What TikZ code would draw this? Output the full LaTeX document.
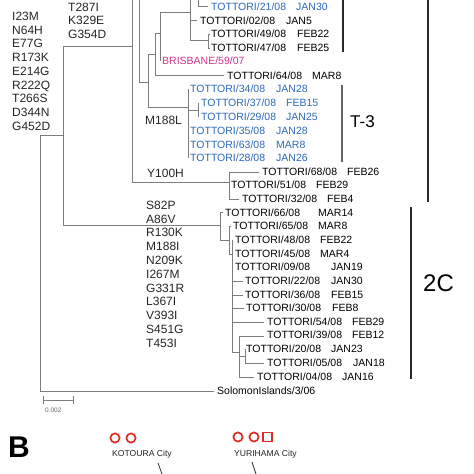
\documentclass[tikz,border=0pt]{standalone}
\usepackage{fontspec}
\setmainfont{Liberation Sans}
\definecolor{tblue}{RGB}{45,105,185}
\definecolor{tmag}{RGB}{210,50,140}
\definecolor{brk}{RGB}{40,40,40}
\definecolor{lnc}{RGB}{125,125,125}
\definecolor{cred}{RGB}{220,45,35}
\newcommand\mkleaf[6]{%
  \node[leaf,text=#6] (n#3) at (#1,#2+3.8) {TOTTORI/#3/08};
  \node[leaf,text=#6] (d#3) at (#4,#2+3.8) {#5};}
\begin{document}
\begin{tikzpicture}[x=1pt,y=-1pt,
  brn/.style={draw=lnc,line width=0.8pt},
  brkt/.style={draw=brk,line width=1.7pt},
  thinbrkt/.style={draw=lnc!80!black,line width=1.1pt},
  leaf/.style={anchor=base west,inner sep=0pt,font=\fontsize{10.5}{12}\selectfont},
  mut/.style={anchor=base west,inner sep=0pt,font=\fontsize{12}{14}\selectfont,text=black!85},
  city/.style={anchor=base west,inner sep=0pt,font=\fontsize{8.6}{10}\selectfont,text=black!85},
  redmark/.style={draw=cred,line width=1.7pt}]
\fill[white] (0,0) rectangle (474,474);
\useasboundingbox (0,0) rectangle (474,474);

% ---- tree branches ----
\draw[brn] (40,135)--(40,391) (40,135)--(63,135);
\draw[brn] (63,46)--(63,225) (63,46)--(132,46);
\draw[brn] (63,225)--(220,225);
\draw[brn] (40,391)--(214,391);
% node A
\draw[brn] (132,0)--(132,182) (132,182)--(229,182);
% node B
\draw[brn] (139,0)--(139,82) (139,82)--(148,82);
% node D
\draw[brn] (148,54)--(148,107) (148,54)--(155,54) (148,107)--(188,107);
% node C
\draw[brn] (155,33)--(155,75) (155,33)--(160,33) (155,75)--(224,75);
% node E
\draw[brn] (160,12)--(160,61) (160,12)--(190,12);
% node F
\draw[brn] (190,0)--(190,40) (190,20)--(197,20) (190,40)--(208,40);
\draw[brn] (208,34)--(208,48) (208,34)--(210,34) (208,48)--(210,48);
% top leaf 21
\draw[brn] (198,0)--(198,6)--(208,6);
% T-3 clade
\draw[brn] (188,89)--(188,158) (188,110)--(198,110) (198,103)--(198,117);
% Y100H clade
\draw[brn] (229,172)--(229,199) (229,172)--(259,172) (229,199)--(239,199);
% 2C clade
\draw[brn] (220,212)--(220,240) (220,212)--(223,212) (220,240)--(229,240);
\draw[brn] (229,226)--(229,254) (229,226)--(231,226) (229,254)--(232,254);
\draw[brn] (232,240)--(232,352);
\draw[brn] (232,281)--(243,281) (232,295)--(243,295) (232,308)--(244,308);
\draw[brn] (232,322)--(264,322) (232,352)--(239,352);
\draw[brn] (239,336)--(239,377) (239,336)--(264,336) (239,356)--(245,356) (239,377)--(254,377);
\draw[brn] (245,349)--(245,363) (245,363)--(264,363);

% ---- leaves ----
\mkleaf{211}{7}{21}{296}{JAN30}{tblue}
\mkleaf{200}{21}{02}{286}{JAN5}{black}
\mkleaf{211}{34}{49}{297}{FEB22}{black}
\mkleaf{211}{48}{47}{297}{FEB25}{black}
\node[leaf,text=tmag] (bris) at (162,61+3.8) {BRISBANE/59/07};
\mkleaf{227}{76}{64}{312}{MAR8}{black}
\mkleaf{190}{89}{34}{276}{JAN28}{tblue}
\mkleaf{201}{103}{37}{286}{FEB15}{tblue}
\mkleaf{201}{117}{29}{286}{JAN25}{tblue}
\mkleaf{190}{131}{35}{276}{JAN28}{tblue}
\mkleaf{190}{145}{63}{276}{MAR8}{tblue}
\mkleaf{190}{158}{28}{276}{JAN26}{tblue}
\mkleaf{262}{172}{68}{347}{FEB26}{black}
\mkleaf{231}{185}{51}{316}{FEB29}{black}
\mkleaf{242}{199}{32}{327}{FEB4}{black}
\mkleaf{225}{213}{66}{318}{MAR14}{black}
\mkleaf{233}{226}{65}{318}{MAR8}{black}
\mkleaf{235}{240}{48}{320}{FEB22}{black}
\mkleaf{235}{254}{45}{320}{MAR4}{black}
\mkleaf{235}{267}{09}{331}{JAN19}{black}
\mkleaf{245}{281}{22}{331}{JAN30}{black}
\mkleaf{245}{295}{36}{331}{FEB15}{black}
\mkleaf{246}{308}{30}{332}{FEB8}{black}
\mkleaf{267}{322}{54}{352}{FEB29}{black}
\mkleaf{267}{335}{39}{352}{FEB12}{black}
\mkleaf{246}{349}{20}{331}{JAN23}{black}
\mkleaf{267}{363}{05}{353}{JAN18}{black}
\mkleaf{257}{377}{04}{342}{JAN16}{black}
\node[leaf] (sol) at (217,391+3.8) {SolomonIslands/3/06};

% ---- mutation labels ----
\foreach \t [count=\i] in {I23M,N64H,E77G,R173K,E214G,R222Q,T266S,D344N,G452D}
  \node[mut] (ma\i) at (12,16+4.3+13.75*\i-13.75) {\t};
\foreach \t [count=\i] in {T287I,K329E,G354D}
  \node[mut] (mb\i) at (68,7+4.3+13.5*\i-13.5) {\t};
\node[mut] (mc) at (145,120+4.3) {M188L};
\node[mut] (md) at (147,173+4.3) {Y100H};
\foreach \t [count=\i] in {S82P,A86V,R130K,M188I,N209K,I267M,G331R,L367I,V393I,S451G,T453I}
  \node[mut] (me\i) at (146,205+4.3+13.8*\i-13.8) {\t};

% ---- brackets ----
\draw[brkt] (343,0)--(343,52);
\draw[thinbrkt] (342,85)--(342,162);
\draw[brkt] (428,0)--(428,202);
\draw[brkt] (411,207)--(411,379);
\node[anchor=base west,inner sep=0pt,font=\fontsize{17}{20}\selectfont] (t3) at (350,127) {T-3};
\node[anchor=base west,inner sep=0pt,font=\fontsize{24}{28}\selectfont] (c2) at (423,291.5) {2C};

% ---- scale bar ----
\draw[draw=lnc,line width=0.8pt] (43,396)--(43,404) (43,400)--(73,400) (73,396)--(73,404);
\node[anchor=base west,inner sep=0pt,font=\fontsize{6.5}{8}\selectfont,text=black!60] (sc) at (45,412) {0.002};

% ---- panel B ----
\node[anchor=base west,inner sep=0pt,font=\fontsize{30}{34}\bfseries\selectfont] (pb) at (8,457) {B};
\draw[redmark] (115,438) circle (4.6) (131,438) circle (4.6);
\node[city] (kot) at (112,456) {KOTOURA City};
\draw[redmark] (238,437) circle (4.6) (254,437) circle (4.6);
\draw[redmark] (263,432.5) rectangle (272,441.5);
\node[city] (yur) at (234,456) {YURIHAMA City};
\coordinate (k1) at (158,463); \coordinate (k2) at (162,474);
\coordinate (y1) at (252,462); \coordinate (y2) at (256,474);
\draw[draw=black!80,line width=0.8pt] (k1)--(k2) (y1)--(y2);
\end{tikzpicture}
\end{document}
